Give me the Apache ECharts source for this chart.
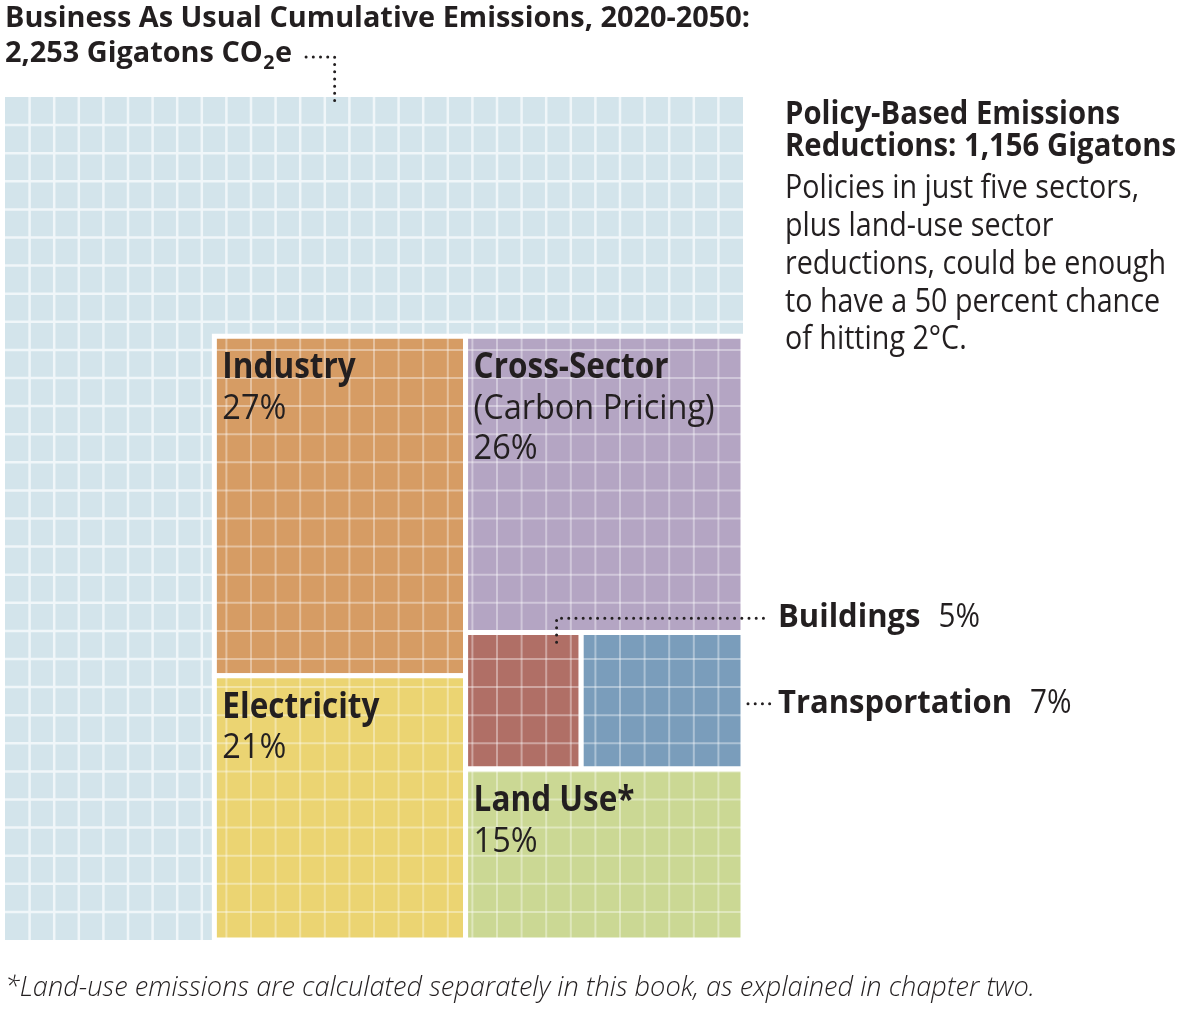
<!DOCTYPE html>
<html><head><meta charset="utf-8">
<script src="https://cdn.jsdelivr.net/npm/echarts@6/dist/echarts.min.js"></script>
<style>html,body{margin:0;padding:0;background:#fff}#c{width:1200px;height:1011px}</style>
</head><body><div id="c"></div>
<script>
// ---------- data ----------
const bauTotal = 2253;          // gigatons CO2e, business as usual 2020-2050
const policyTotal = 1156;       // gigatons, policy-based reductions
const cellsPerSide = 30;        // waffle grid 30 x 30
const sectors   = ['Industry', 'Electricity', 'Cross-Sector', 'Buildings', 'Transportation', 'Land Use*'];
const shares    = [27, 21, 26, 5, 7, 15];
const subtitles = ['', '', '(Carbon Pricing)', '', '', ''];
const colors    = ['#d69c64', '#ebd472', '#b4a5c3', '#b06f66', '#7a9dbb', '#cbd894'];
const insideLabel = [true, true, true, false, false, true];

const titleLine1 = 'Business As Usual Cumulative Emissions, 2020-2050:';
const titleLine2a = '2,253 Gigatons CO';
const titleSub = '2';
const titleLine2b = 'e';
const headLines = ['Policy-Based Emissions', 'Reductions: 1,156 Gigatons'];
const bodyLines = ['Policies in just five sectors,', 'plus land-use sector', 'reductions, could be enough', 'to have a 50 percent chance', 'of hitting 2°C.'];
const footnote = '*Land-use emissions are calculated separately in this book, as explained in chapter two.';

// ---------- fonts (sized by cap height, condensed horizontally to the reference widths) ----------
const FAM = '"Open Sans", "Noto Sans", sans-serif';
const TXT = '#231f20';
const mctx = document.createElement('canvas').getContext('2d');
function measure(text, weight, size, style) {
  mctx.font = (style || 'normal') + ' ' + weight + ' ' + size + 'px ' + FAM;
  return mctx.measureText(text).width;
}
function sx(text, weight, size, target, style) { return target / measure(text, weight, size, style); }

const titleSize = 28,  titleSX = sx(titleLine1, 'bold', titleSize, 745);
const headSize = 32,   headSX = sx(headLines[1], 'bold', headSize, 391);
const bodySize = 32,   bodySX = sx(bodyLines[2], 'normal', bodySize, 381);
const nameSize = 35,   nameSX = sx('Cross-Sector', 'bold', nameSize, 195);
const subSize = 35,    subSX = sx('(Carbon Pricing)', 'normal', subSize, 241);
const sideSize = 32,   sideSX = sx('Transportation', 'bold', sideSize, 234);
const sidePSize = 32,  sidePSX = subSX;
const footSize = 28,   footSX = sx(footnote, '300', footSize, 1030, 'italic');

function T(text, x, y, weight, size, scaleX, extra) {
  return Object.assign({
    type: 'text', x, y, scaleX,
    style: { text, x: 0, y: 0, fill: TXT, fontFamily: FAM, fontWeight: weight, fontSize: size, align: 'left', verticalAlign: 'middle' }
  }, extra || {});
}

// ---------- layout of reduction blocks (slice and dice, in cell units) ----------
const side = cellsPerSide * Math.sqrt(policyTotal / bauTotal);
const o = cellsPerSide - side;
const total = shares.reduce((a, b) => a + b, 0);
const E = cellsPerSide;
const leftW = side * (shares[0] + shares[1]) / total;
const xm = o + leftW;
const yInd = o + side * shares[0] / (shares[0] + shares[1]);
const rightSum = shares[2] + shares[3] + shares[4] + shares[5];
const yCross = o + side * shares[2] / rightSum;
const yRow = yCross + side * (shares[3] + shares[4]) / rightSum;
const xb = xm + (E - xm) * shares[3] / (shares[3] + shares[4]);
const rects = [
  [o, o, xm, yInd],
  [o, yInd, xm, E],
  [xm, o, E, yCross],
  [xm, yCross, xb, yRow],
  [xb, yCross, E, yRow],
  [xm, yRow, E, E]
];
const blockData = rects.map((r, i) => [r[0], r[1], r[2], r[3], i]);

// ---------- chart ----------
const chart = echarts.init(document.getElementById('c'), null, { renderer: 'canvas' });
const GRID = { left: 5, top: 97, width: 738, height: 843 };

function line(x1, y1, x2, y2, stroke, lw) {
  return { type: 'line', shape: { x1, y1, x2, y2 }, style: { stroke, lineWidth: lw } };
}
const DOT = { stroke: TXT, lineWidth: 3, lineCap: 'round', lineDash: [0.01, 7.2] };

const option = {
  animation: false,
  backgroundColor: '#ffffff',
  grid: GRID,
  xAxis: { type: 'value', min: 0, max: cellsPerSide, show: false },
  yAxis: { type: 'value', min: 0, max: cellsPerSide, inverse: true, show: false },
  series: [
    {
      type: 'custom', coordinateSystem: 'cartesian2d', silent: true, z: 1,
      data: [[0, 0, cellsPerSide, cellsPerSide]],
      renderItem(params, api) {
        const p0 = api.coord([0, 0]), p1 = api.coord([cellsPerSide, cellsPerSide]);
        const ch = [{ type: 'rect', shape: { x: p0[0], y: p0[1], width: p1[0] - p0[0], height: p1[1] - p0[1] }, style: { fill: '#d3e4eb' } }];
        for (let k = 1; k < cellsPerSide; k++) {
          const a = api.coord([k, 0]), b = api.coord([0, k]);
          ch.push(line(a[0], p0[1], a[0], p1[1], '#f0f6f9', 2.5));
          ch.push(line(p0[0], b[1], p1[0], b[1], '#f0f6f9', 2.5));
        }
        return { type: 'group', children: ch };
      }
    },
    {
      type: 'custom', coordinateSystem: 'cartesian2d', silent: true, z: 2,
      data: blockData,
      renderItem(params, api) {
        const i = api.value(4);
        const v = [api.value(0), api.value(1), api.value(2), api.value(3)];
        const p0 = api.coord([v[0], v[1]]), p1 = api.coord([v[2], v[3]]);
        const x = p0[0], y = p0[1], w = p1[0] - p0[0], h = p1[1] - p0[1];
        const ch = [{ type: 'rect', shape: { x, y, width: w, height: h }, style: { fill: colors[i] } }];
        for (let k = Math.ceil(v[0]); k < v[2]; k++) {
          const a = api.coord([k, 0]);
          ch.push(line(a[0], y, a[0], y + h, 'rgba(255,255,255,0.38)', 2));
        }
        for (let k = Math.ceil(v[1]); k < v[3]; k++) {
          const b = api.coord([0, k]);
          ch.push(line(x, b[1], x + w, b[1], 'rgba(255,255,255,0.38)', 2));
        }
        ch.push({ type: 'rect', shape: { x, y, width: w, height: h }, style: { fill: null, stroke: '#ffffff', lineWidth: 5 } });
        if (insideLabel[i]) {
          const lines = [{ t: sectors[i], bold: true }];
          if (subtitles[i]) lines.push({ t: subtitles[i], bold: false });
          lines.push({ t: shares[i] + '%', bold: false });
          lines.forEach((ln, j) => {
            ch.push(T(ln.t, x + 8, y + 32 + j * 40.5, ln.bold ? 'bold' : 'normal',
              ln.bold ? nameSize : subSize, ln.bold ? nameSX : subSX));
          });
        }
        return { type: 'group', children: ch };
      }
    },
    {
      // leaders and outside labels for Buildings / Transportation
      type: 'custom', coordinateSystem: 'cartesian2d', silent: true, z: 3,
      data: [[3], [4]],
      renderItem(params, api) {
        const i = api.value(0);
        const r = rects[i];
        const labelX = 778;
        const ch = [];
        let ly;
        if (i === 3) {
          const top = api.coord([r[2] - 1.0, r[1] - 0.5]);
          const bot = api.coord([r[2] - 1.0, r[1] + 0.35]);
          ly = top[1];
          ch.push({ type: 'polyline', shape: { points: [[bot[0], bot[1]], [top[0], top[1]], [labelX - 8, top[1]]] }, style: Object.assign({ fill: null }, DOT) });
        } else {
          const a = api.coord([r[2], (r[1] + r[3]) / 2]);
          ly = a[1] + 3;
          ch.push({ type: 'line', shape: { x1: a[0] + 5, y1: ly, x2: labelX - 8, y2: ly }, style: DOT });
        }
        const nameW = measure(sectors[i], 'bold', sideSize) * sideSX;
        ch.push(T(sectors[i], labelX, ly, 'bold', sideSize, sideSX));
        ch.push(T(shares[i] + '%', labelX + nameW + 18, ly, 'normal', sidePSize, sidePSX));
        return { type: 'group', children: ch };
      }
    }
  ]
};

// title and side texts
const gfx = [];
gfx.push(T(titleLine1, 5, 19, 'bold', titleSize, titleSX));
const w2a = measure(titleLine2a, 'bold', titleSize) * titleSX;
const subS = titleSize * 0.68;
const w2s = measure(titleSub, 'bold', subS) * titleSX;
const w2b = measure(titleLine2b, 'bold', titleSize) * titleSX;
gfx.push(T(titleLine2a, 5, 54, 'bold', titleSize, titleSX));
gfx.push(T(titleSub, 5 + w2a + 0.5, 64, 'bold', subS, titleSX));
gfx.push(T(titleLine2b, 5 + w2a + w2s + 1, 54, 'bold', titleSize, titleSX));
const endX = 5 + w2a + w2s + 1 + w2b;
headLines.forEach((t, j) => gfx.push(T(t, 785, 115 + j * 31.5, 'bold', headSize, headSX)));
bodyLines.forEach((t, j) => gfx.push(T(t, 785, 189 + j * 37.8, 'normal', bodySize, bodySX)));
const foot = T(footnote, 5, 988, '300', footSize, footSX);
foot.style.fontStyle = 'italic';
gfx.push(foot);
option.graphic = gfx;
chart.setOption(option);

// title leader, anchored to the waffle grid
const gp = chart.convertToPixel({ gridIndex: 0 }, [13.4, 0.3]);
chart.setOption({
  graphic: gfx.concat([{
    type: 'polyline', z: 10,
    shape: { points: [[endX + 14, 57], [gp[0], 57], [gp[0], gp[1]]] },
    style: Object.assign({ fill: null }, DOT)
  }])
});
</script>
</body></html>
